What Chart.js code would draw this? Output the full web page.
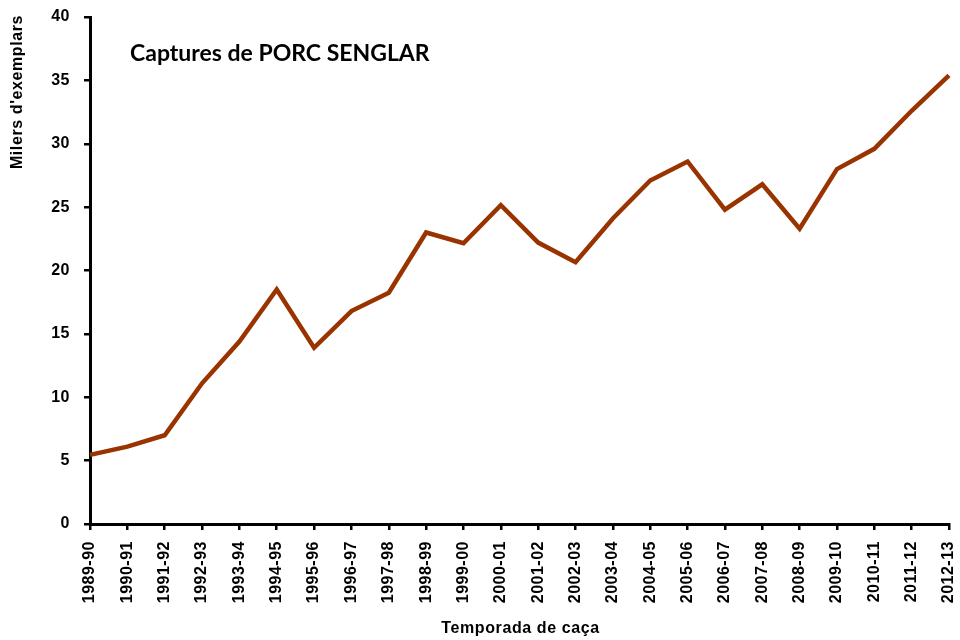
<!DOCTYPE html>
<html>
<head>
<meta charset="utf-8">
<script src="https://cdn.jsdelivr.net/npm/chart.js@4"></script>
<style>
html,body{margin:0;padding:0;background:#fff;}
#wrap{width:960px;height:640px;}
</style>
</head>
<body>
<div id="wrap"><canvas id="c" width="960" height="640"></canvas></div>
<script>
const seasons = ["1989-90","1990-91","1991-92","1992-93","1993-94","1994-95","1995-96","1996-97","1997-98","1998-99","1999-00","2000-01","2001-02","2002-03","2003-04","2004-05","2005-06","2006-07","2007-08","2008-09","2009-10","2010-11","2011-12","2012-13"];
const captures = [5.45,6.1,7.0,11.1,14.4,18.5,13.9,16.8,18.25,23.0,22.15,25.15,22.2,20.65,24.1,27.1,28.6,24.8,26.8,23.3,28.0,29.6,32.6,35.4];
const yTicks = [0,5,10,15,20,25,30,35,40];
const chartTitle = "Captures de PORC SENGLAR";
const yTitle = "Milers d'exemplars";
const xTitle = "Temporada de caça";

const textPlugin = {
  id: 'texts',
  beforeDraw(chart) {
    chart.ctx.letterSpacing = '0.5px';
  },
  afterDraw(chart) {
    const ctx = chart.ctx;
    ctx.save();
    ctx.fillStyle = '#000';
    ctx.letterSpacing = '0px';
    ctx.font = 'bold 23px Lato';
    ctx.textAlign = 'left';
    ctx.textBaseline = 'alphabetic';
    ctx.fillText(chartTitle, 130, 61);
    ctx.letterSpacing = '0.6px';
    ctx.font = 'bold 16px "Liberation Sans", Arial';
    ctx.textAlign = 'center';
    ctx.textBaseline = 'middle';
    const ca = chart.chartArea;
    ctx.fillText(xTitle, (ca.left + ca.right) / 2 + 1, 629);
    ctx.translate(18, 92);
    ctx.rotate(-Math.PI / 2);
    ctx.fillText(yTitle, 0, 0);
    ctx.restore();
  }
};

new Chart(document.getElementById('c'), {
  type: 'line',
  data: {
    labels: seasons,
    datasets: [{
      data: captures,
      borderColor: '#993300',
      borderWidth: 4.5,
      pointRadius: 0,
      tension: 0,
      fill: false,
      clip: false
    }]
  },
  options: {
    responsive: false,
    animation: false,
    events: [],
    layout: { padding: { top: 17, right: 11, left: 0, bottom: 0 } },
    plugins: { legend: { display: false }, tooltip: { enabled: false }, title: { display: false } },
    scales: {
      x: {
        type: 'category',
        offset: false,
        afterFit(s) { s.height = 116; s.paddingLeft = 0; s.paddingRight = 0; },
        border: { display: true, color: '#000', width: 3 },
        grid: { display: true, drawOnChartArea: false, drawTicks: true, tickLength: 6, color: '#000', lineWidth: 2.5, offset: false },
        ticks: {
          autoSkip: false, maxRotation: 90, minRotation: 90, padding: 11,
          color: '#000', font: { family: '"Liberation Sans", Arial', size: 16, weight: 'bold' }
        }
      },
      y: {
        min: 0, max: 40,
        afterFit(s) { s.width = 90; s.paddingTop = 0; s.paddingBottom = 0; },
        afterBuildTicks(s) { s.ticks = yTicks.map(v => ({ value: v })); },
        border: { display: true, color: '#000', width: 3 },
        grid: { display: true, drawOnChartArea: false, drawTicks: true, tickLength: 6, color: '#000', lineWidth: 2.5 },
        ticks: {
          stepSize: 5, padding: 14,
          color: '#000', font: { family: '"Liberation Sans", Arial', size: 16, weight: 'bold' }
        }
      }
    }
  },
  plugins: [textPlugin]
});
</script>
</body>
</html>
